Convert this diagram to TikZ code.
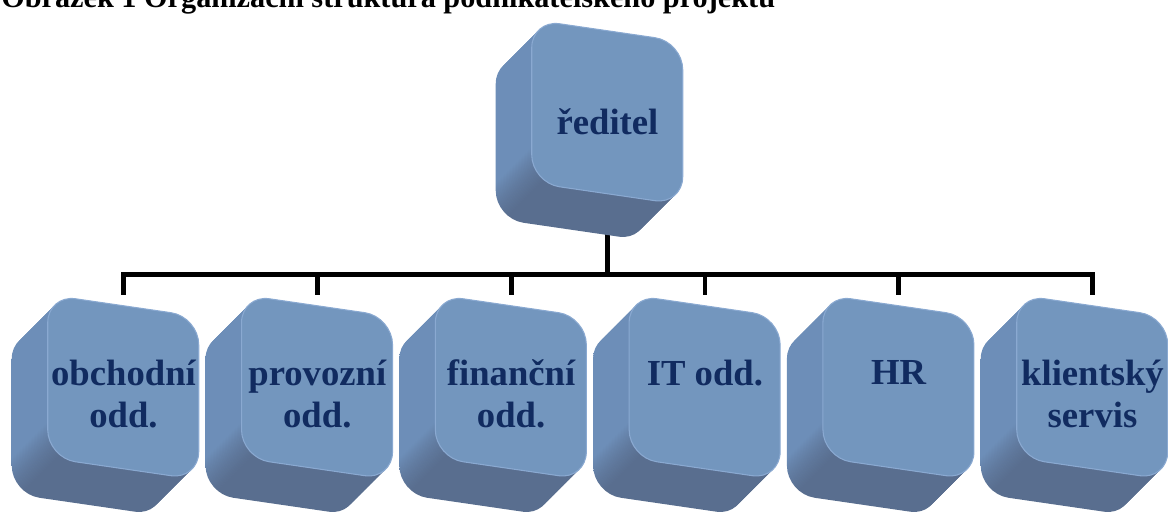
\documentclass[tikz,border=0pt]{standalone}
\usepackage{fontspec}
\setmainfont{Liberation Serif}
\usetikzlibrary{positioning}

\definecolor{keyface}{HTML}{7396BE}
\definecolor{keyrim}{HTML}{8AA9D1}
\definecolor{keyside}{HTML}{6D8EB8}
\definecolor{keybottom}{HTML}{596E8F}
\definecolor{keytext}{HTML}{112B60}

\pgfdeclareverticalshading{keydepth}{100bp}{color(0bp)=(keybottom); color(32bp)=(keybottom); color(41bp)=(keyside); color(100bp)=(keyside)}

% one raised key, drawn behind the named slot #1
\newcommand{\keybox}[1]{%
  \foreach \k in {24,23,...,1}
    \shade[shading=keydepth, rounded corners=21pt, shift={(#1.north west)}, shift={(-1.5*\k,1.5*\k)}]
      (0,0) -- (151,22) -- (151,185) -- (0,163) -- cycle;
  \filldraw[fill=keyface, draw=keyrim, line width=0.8pt, rounded corners=21pt, shift={(#1.north west)}]
    (0,0) -- (151,22) -- (151,185) -- (0,163) -- cycle;
}

\begin{document}
\begin{tikzpicture}[x=0.75pt, y=-0.75pt,
  keyslot/.style={minimum width=113.25pt, minimum height=138.75pt, inner sep=0pt},
  keylabel/.style={inner sep=0pt, align=center, text=keytext, font=\fontsize{27.5}{31.5}\selectfont\bfseries},
  orgline/.style={line width=3.6pt, line join=miter}]
  \useasboundingbox (0,0) rectangle (1168,516);

  % caption, cut off by the page edge
  \node[anchor=base west, inner sep=0pt, font=\fontsize{22.7}{26}\selectfont\bfseries] (caption) at (1,8)
    {Obrázek 1 Organizační struktura podnikatelského projektu};

  \node[keyslot] (reditel) at (607.5,112.5) {};
  \node[keyslot] (obch) at (123.5,387.5) {};
  \node[keyslot] (prov) at (317.3,387.5) {};
  \node[keyslot] (fin) at (511.1,387.5) {};
  \node[keyslot] (it) at (704.9,387.5) {};
  \node[keyslot] (hr) at (898.7,387.5) {};
  \node[keyslot] (klient) at (1092.5,387.5) {};

  \path (obch.north) ++(0,-20) coordinate (barL);
  \draw[orgline] (reditel.south) -- (reditel.south |- barL);
  \draw[orgline] (obch.north) -- (barL) -- (barL -| klient.north) -- (klient.north);
  \foreach \n in {prov,fin,it,hr}
    \draw[orgline] (\n.north) -- (\n.north |- barL);

  \keybox{reditel}
  \keybox{obch}
  \keybox{prov}
  \keybox{fin}
  \keybox{it}
  \keybox{hr}
  \keybox{klient}

  \node[keylabel, below=66.75pt of reditel.north] (lreditel) {ředitel};
  \node[keylabel, below=48.75pt of obch.north] (lobch) {obchodní\\odd.};
  \node[keylabel, below=48.75pt of prov.north] (lprov) {provozní\\odd.};
  \node[keylabel, below=48.75pt of fin.north] (lfin) {finanční\\odd.};
  \node[keylabel, below=48.75pt of it.north] (lit) {IT odd.};
  \node[keylabel, below=48.75pt of hr.north] (lhr) {HR};
  \node[keylabel, below=48.75pt of klient.north] (lklient) {klientský\\servis};
\end{tikzpicture}
\end{document}
